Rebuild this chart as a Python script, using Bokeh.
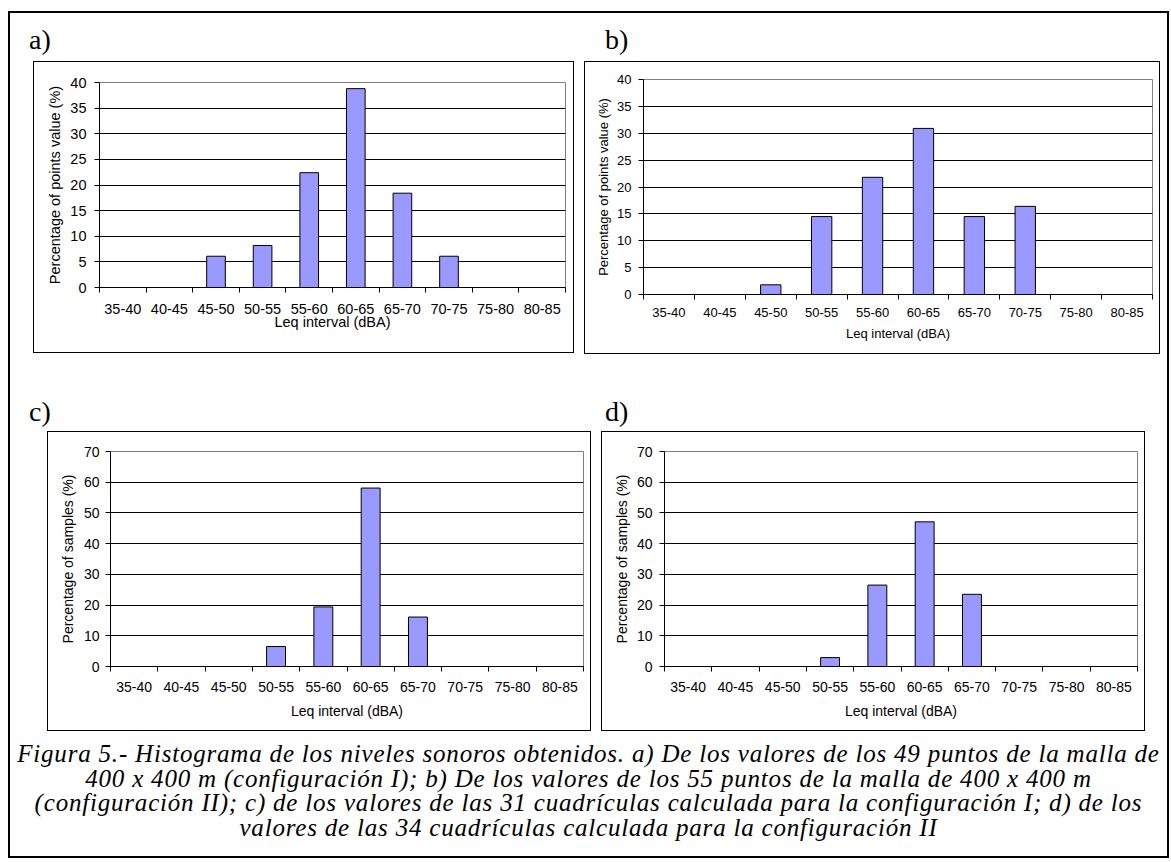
from bokeh.plotting import figure
from bokeh.models import Range1d, FixedTicker, Div, Spacer
from bokeh.layouts import row, column
from bokeh.embed import file_html
from bokeh.resources import INLINE

# ---------------- data ----------------
categories = ["35-40", "40-45", "45-50", "50-55", "55-60",
              "60-65", "65-70", "70-75", "75-80", "80-85"]
pct_a = [0, 0, 6.1, 8.2, 22.4, 38.8, 18.4, 6.1, 0, 0]
pct_b = [0, 0, 1.8, 14.5, 21.8, 30.9, 14.5, 16.4, 0, 0]
pct_c = [0, 0, 0, 6.5, 19.4, 58.1, 16.1, 0, 0, 0]
pct_d = [0, 0, 0, 2.9, 26.5, 47.1, 23.5, 0, 0, 0]

ylabel_points = "Percentage of points value (%)"
ylabel_samples = "Percentage of samples (%)"
xlabel = "Leq interval (dBA)"
ymax_points, ystep_points = 40, 5
ymax_samples, ystep_samples = 70, 10

panel_letters = ["a)", "b)", "c)", "d)"]
caption_lines = [
    "Figura 5.- Histograma de los niveles sonoros obtenidos. a) De los valores de los 49 puntos de la malla de",
    "400 x 400 m (configuración I); b) De los valores de los 55 puntos de la malla de 400 x 400 m",
    "(configuración II); c) de los valores de las 31 cuadrículas calculada para la configuración I; d) de los",
    "valores de las 34 cuadrículas calculada para la configuración II",
]

BAR = "#9999FF"
SANS = "Liberation Sans"
SERIF = "Liberation Serif"
BOX_CSS = {"outline": "1px solid #000", "outline-offset": "-1px",
           "box-shadow": "inset 0 0 0 1px #000", "background-color": "white"}


def make_panel(values, ylabel, ymax, ystep, w, h, bl, br, bt, bb,
               fs, yst, ylst, xst, xlst):
    n = len(categories)
    centers = [i + 0.5 for i in range(n)]
    edges = list(range(n + 1))
    p = figure(width=w, height=h, x_range=Range1d(0, n), y_range=Range1d(0, ymax),
               output_backend="svg", toolbar_location=None,
               min_border_left=bl, min_border_right=br,
               min_border_top=bt, min_border_bottom=bb,
               background_fill_color="white", border_fill_color=None,
               styles=BOX_CSS)
    p.vbar(x=centers, top=values, width=0.4, fill_color=BAR,
           line_color="black", line_width=1)
    p.outline_line_color = "#808080"
    p.outline_line_width = 1

    xa = p.xaxis[0]
    xa.ticker = FixedTicker(ticks=centers, minor_ticks=edges)
    xa.major_label_overrides = {c: lab for c, lab in zip(centers, categories)}
    xa.major_tick_in = 0
    xa.major_tick_out = 0
    xa.minor_tick_in = 0
    xa.minor_tick_out = 5
    xa.minor_tick_line_color = "black"
    xa.axis_line_color = "black"
    xa.major_label_standoff = xst
    xa.major_label_text_font = SANS
    xa.major_label_text_font_size = fs
    xa.major_label_text_color = "black"
    xa.axis_label = xlabel
    xa.axis_label_standoff = xlst
    xa.axis_label_text_font = SANS
    xa.axis_label_text_font_size = fs
    xa.axis_label_text_font_style = "normal"
    xa.axis_label_text_color = "black"

    ya = p.yaxis[0]
    ya.ticker = FixedTicker(ticks=list(range(0, ymax + 1, ystep)))
    ya.major_tick_in = 0
    ya.major_tick_out = 5
    ya.minor_tick_in = 0
    ya.minor_tick_out = 0
    ya.major_tick_line_color = "black"
    ya.axis_line_color = "black"
    ya.major_label_standoff = yst
    ya.major_label_text_font = SANS
    ya.major_label_text_font_size = fs
    ya.major_label_text_color = "black"
    ya.axis_label = ylabel
    ya.axis_label_standoff = ylst
    ya.axis_label_text_font = SANS
    ya.axis_label_text_font_size = fs
    ya.axis_label_text_font_style = "normal"
    ya.axis_label_text_color = "black"

    p.xgrid.visible = False
    p.ygrid.ticker = FixedTicker(ticks=list(range(ystep, ymax, ystep)))
    p.ygrid.grid_line_color = "black"
    p.ygrid.grid_line_width = 1
    return p


fig_a = make_panel(pct_a, ylabel_points, ymax_points, ystep_points,
                   541, 292, 66, 9, 21, 66, "14.5px", 8, 4, 11, -3)
fig_b = make_panel(pct_b, ylabel_points, ymax_points, ystep_points,
                   576, 293, 59, 8, 18, 60, "13px", 7, 3, 8, 6)
fig_c = make_panel(pct_c, ylabel_samples, ymax_samples, ystep_samples,
                   544, 300, 63, 8, 20, 65, "14px", 6, 5, 10, 8)
fig_d = make_panel(pct_d, ylabel_samples, ymax_samples, ystep_samples,
                   544, 300, 63, 8, 20, 65, "14px", 7, 4, 10, 8)


def letter(txt, w, h, pad):
    return Div(text=(f'<div style="font-family:\'{SERIF}\',serif;font-size:28px;line-height:28px;'
                     f'padding-top:{pad}px;color:#000;white-space:nowrap">{txt}</div>'),
               width=w, height=h, margin=0)


row1 = row(Spacer(width=21, height=50, margin=0),
           letter(panel_letters[0], 576, 50, 15),
           letter(panel_letters[1], 564, 50, 15), spacing=0)
row2 = row(Spacer(width=25, height=293, margin=0), column(fig_a, spacing=0),
           Spacer(width=10, height=293, margin=0), column(fig_b, spacing=0),
           Spacer(width=9, height=293, margin=0), spacing=0)
row3 = row(Spacer(width=21, height=77, margin=0),
           letter(panel_letters[2], 576, 77, 44),
           letter(panel_letters[3], 564, 77, 44), spacing=0)
row4 = row(Spacer(width=39, height=300, margin=0), column(fig_c, spacing=0),
           Spacer(width=10, height=300, margin=0), column(fig_d, spacing=0),
           Spacer(width=24, height=300, margin=0), spacing=0)

caption_html = "<br>".join(caption_lines)
caption = Div(text=(f'<div style="font-family:\'{SERIF}\',serif;font-style:italic;font-size:25px;'
                    f'letter-spacing:0.8px;line-height:24.5px;text-align:center;padding-top:11px;'
                    f'color:#000;white-space:nowrap;width:1161px;">'
                    f'{caption_html}</div>'),
              width=1161, height=127, margin=0)

inner = column(row1, row2, row3, row4, caption, spacing=0,
               styles={"outline": "2px solid #000", "outline-offset": "-2px"})
page = column(Spacer(width=1169, height=11, margin=0),
              row(Spacer(width=8, height=847, margin=0), inner, spacing=0),
              spacing=0)

open("out.html", "w").write(file_html(page, INLINE))
